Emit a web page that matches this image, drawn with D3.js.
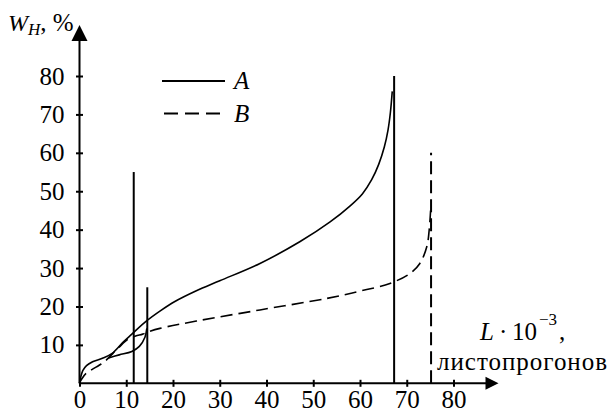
<!DOCTYPE html>
<html><head><meta charset="utf-8">
<script src="https://cdn.jsdelivr.net/npm/d3@7"></script>
<style>body{margin:0;background:#fff}svg{display:block}</style>
</head><body><svg id="c" width="611" height="414"></svg>
<script>
// Data (L·10^-3, W_H %)
const xTicks = [0,10,20,30,40,50,60,70,80];
const yTicks = [10,20,30,40,50,60,70,80];
const curveA = [[0,0],[0.3,1.8],[0.7,3.3],[1.5,4.6],[2.8,5.6],[4.9,6.5],[7,7.8],[9.4,10.8],[11.2,12.8],[14.4,16.3],[17.2,18.8],[20.4,21.3],[25,24.1],[30,26.7],[38.6,31.2],[47.2,36.9],[53.6,42],[57.9,46.2],[60.5,49.3],[62.5,53],[64,57],[65.2,61.5],[66,66],[66.5,70.5],[66.9,76]];
const curveAloop = [[6.2,6.6],[8.5,7.4],[11.2,8.3],[12.8,9.6],[14,12],[14.4,14.3]];
const curveB = [[0,0],[0.4,1],[1.4,2.6],[2.8,3.7],[4.2,4.7],[5.5,5.8],[8.3,9.2],[10.4,11.5],[12,12.3],[13.5,12.8],[14.5,13.3],[17.2,14.3],[25,16.2],[38.6,19.1],[52.9,22.1],[60,24],[66.4,26],[70.7,28.6],[72.8,31.2],[74.3,35.6],[74.8,39.9],[75.1,45]];
const limitsSolid = [[11.6,55],[14.5,25],[67.3,80]];
const limitsDashed = [[75.2,60]];
const legend = [{name:"A", dash:null},{name:"B", dash:"14,7"}];

const FONT = "Liberation Serif";
const svg = d3.select("#c");
const x = d3.scaleLinear().domain([0,80]).range([79.5,453.5]);
const y = d3.scaleLinear().domain([0,80]).range([383.3,76]);
const FS = 25;

// axes
const xa = svg.append("g").attr("transform",`translate(0,${y(0)})`)
  .call(d3.axisBottom(x).tickValues(xTicks).tickSize(0).tickPadding(7).tickFormat(d3.format("d")));
xa.attr("font-family",FONT).attr("font-size",FS);
xa.select(".domain").remove();
xa.selectAll(".tick text").attr("font-family",FONT).attr("font-size",FS).attr("fill","#000");
xa.selectAll(".tick").append("line").attr("y1",-3.5).attr("y2",3.5).attr("stroke","#000").attr("stroke-width",2);

const ya = svg.append("g").attr("transform",`translate(${x(0)},0)`)
  .call(d3.axisLeft(y).tickValues(yTicks).tickSize(0).tickPadding(15).tickFormat(d3.format("d")));
ya.attr("font-family",FONT).attr("font-size",FS);
ya.select(".domain").remove();
ya.selectAll(".tick text").attr("font-family",FONT).attr("font-size",FS).attr("fill","#000");
ya.selectAll(".tick").append("line").attr("x1",-3.5).attr("x2",3.5).attr("stroke","#000").attr("stroke-width",2);

// axis lines with arrows
svg.append("line").attr("x1",x(0)).attr("x2",487).attr("y1",y(0)).attr("y2",y(0)).attr("stroke","#000").attr("stroke-width",2);
svg.append("path").attr("d",`M498.5,${y(0)}L485.5,${y(0)-6.5}L485.5,${y(0)+6.5}Z`).attr("fill","#000");
svg.append("line").attr("x1",x(0)).attr("x2",x(0)).attr("y1",y(0)).attr("y2",38).attr("stroke","#000").attr("stroke-width",2);
svg.append("path").attr("d",`M${x(0)},25L${x(0)-8},41L${x(0)+8},41Z`).attr("fill","#000");

// curves
const line = d3.line().x(d=>x(d[0])).y(d=>y(d[1])).curve(d3.curveCatmullRom.alpha(0.5));
svg.append("path").attr("d",line(curveA)).attr("fill","none").attr("stroke","#000").attr("stroke-width",1.6);
svg.append("path").attr("d",line(curveAloop)).attr("fill","none").attr("stroke","#000").attr("stroke-width",1.6);
svg.append("path").attr("d",line(curveB)).attr("fill","none").attr("stroke","#000").attr("stroke-width",1.6).attr("stroke-dasharray","12,6");

// limit lines
svg.selectAll(".ls").data(limitsSolid).join("line")
  .attr("x1",d=>x(d[0])).attr("x2",d=>x(d[0])).attr("y1",y(0)).attr("y2",d=>y(d[1]))
  .attr("stroke","#000").attr("stroke-width",2);
svg.selectAll(".ld").data(limitsDashed).join("line")
  .attr("x1",d=>x(d[0])).attr("x2",d=>x(d[0])).attr("y1",y(0)).attr("y2",d=>y(d[1]))
  .attr("stroke","#000").attr("stroke-width",2).attr("stroke-dasharray","13,6");

// legend
legend.forEach((l,i)=>{
  const ly = 81 + i*32.5;
  const ln = svg.append("line").attr("x1",162).attr("x2",225).attr("y1",ly).attr("y2",ly).attr("stroke","#000").attr("stroke-width",2);
  if(l.dash) ln.attr("x1",164).attr("stroke-dasharray",l.dash);
  svg.append("text").attr("x",234).attr("y",ly+8).attr("font-size",FS).attr("font-style","italic").attr("font-family",FONT).text(l.name);
});

// axis titles
const yt = svg.append("text").attr("x",8).attr("y",31).attr("font-size",25).attr("font-family",FONT);
yt.append("tspan").attr("font-style","italic").attr("font-size",24).text("W");
yt.append("tspan").attr("font-style","italic").attr("font-size",17).attr("dy",4).text("H");
yt.append("tspan").attr("dy",-4).text(", %");

const xt = svg.append("text").attr("y",340).attr("font-size",FS).attr("font-family",FONT);
xt.append("tspan").attr("x",480).attr("font-style","italic").text("L");
xt.append("tspan").attr("x",499).text("·");
xt.append("tspan").attr("x",512).text("10");
xt.append("tspan").attr("x",539).attr("font-size",17).attr("dy",-15).text("−3");
xt.append("tspan").attr("x",559).attr("dy",15).text(",");
svg.append("text").attr("x",437).attr("y",370).attr("font-size",FS).attr("font-family",FONT)
  .attr("textLength",170).text("листопрогонов");
</script></body></html>
